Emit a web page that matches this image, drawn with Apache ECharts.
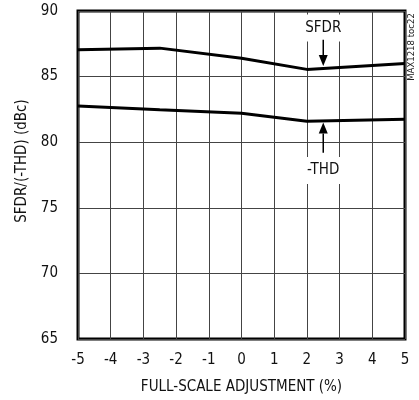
<!DOCTYPE html>
<html><head><meta charset="utf-8">
<script src="https://cdn.jsdelivr.net/npm/echarts@6/dist/echarts.min.js"></script>
<style>html,body{margin:0;padding:0;background:#fff}#c{width:419px;height:400px}</style>
</head><body><div id="c"></div>
<script>
const FONT = "'Liberation Sans Narrow', 'Arial Narrow', 'DejaVu Sans Condensed', sans-serif";
const xTicks = [-5,-4,-3,-2,-1,0,1,2,3,4,5];
const yTicks = [65,70,75,80,85,90];
const sfdrX = [-5, -2.5, 0, 2, 5];
const sfdrY = [87.05, 87.17, 86.4, 85.55, 86.0];
const thdX = [-5, -2.5, 0, 2, 5];
const thdY = [82.75, 82.47, 82.2, 81.6, 81.75];
const xName = 'FULL-SCALE ADJUSTMENT (%)';
const yName = 'SFDR/(-THD) (dBc)';
const sideNote = 'MAX1218 toc22';
// annotation anchors in data units
const sfdrLabel = {text:'SFDR', x:2.5, y:88.7, arrowFrom:87.8, arrowTo:85.8};
const thdLabel = {text:'-THD', x:2.5, y:77.85, arrowFrom:79.2, arrowTo:81.5};

const chart = echarts.init(document.getElementById('c'), null, {renderer:'canvas'});
const zip = (xs, ys) => xs.map((x,i)=>[x, ys[i]]);
chart.setOption({
  animation:false,
  backgroundColor:'#fff',
  textStyle:{fontFamily:FONT},
  grid:{left:78, right:14, top:11, bottom:59, show:true, borderColor:'#000', borderWidth:3, containLabel:false},
  xAxis:{type:'value', min:-5, max:5, interval:1,
    axisLine:{show:false}, axisTick:{show:false},
    splitLine:{show:true, lineStyle:{color:'#444', width:1}},
    axisLabel:{color:'#111', fontSize:15, fontFamily:FONT, margin:14,
      formatter:v=>xTicks.includes(v)?String(v):''},
    name:xName, nameLocation:'middle', nameGap:41,
    nameTextStyle:{color:'#111', fontSize:15, fontFamily:FONT}},
  yAxis:{type:'value', min:65, max:90, interval:5,
    axisLine:{show:false}, axisTick:{show:false},
    splitLine:{show:true, lineStyle:{color:'#444', width:1}},
    axisLabel:{color:'#111', fontSize:15, fontFamily:FONT, margin:20,
      formatter:v=>yTicks.includes(v)?String(v):''},
    name:yName, nameLocation:'middle', nameGap:44,
    nameTextStyle:{color:'#111', fontSize:15, fontFamily:FONT, padding:[0,0,0,28]}},
  series:[
    {type:'line', name:'SFDR', data:zip(sfdrX,sfdrY), symbol:'none', lineStyle:{color:'#000', width:3}, z:5},
    {type:'line', name:'-THD', data:zip(thdX,thdY), symbol:'none', lineStyle:{color:'#000', width:3}, z:5}
  ]
});

function px(x,y){return chart.convertToPixel({gridIndex:0},[x,y]);}
function annot(a, up){
  const t = px(a.x, a.y), f = px(a.x, a.arrowFrom), to = px(a.x, a.arrowTo);
  const headLen = 11, headW = 4.5;
  const baseY = to[1] + (up ? headLen : -headLen);
  return [
    {type:'text', x:t[0], y:t[1], z:20, style:{text:a.text, fill:'#111', font:'15px '+FONT,
      align:'center', verticalAlign:'middle', backgroundColor:'#fff', padding:[6,3,6,3]}},
    {type:'line', z:20, shape:{x1:f[0], y1:f[1], x2:to[0], y2:baseY}, style:{stroke:'#000', lineWidth:1.5}},
    {type:'polygon', z:20, shape:{points:[[to[0],to[1]],[to[0]-headW,baseY],[to[0]+headW,baseY]]}, style:{fill:'#000'}}
  ];
}
chart.setOption({graphic:[
  ...annot(sfdrLabel,false), ...annot(thdLabel,true),
  {type:'text', x:412, y:47, rotation:Math.PI/2, z:20, style:{text:sideNote, fill:'#222', font:'9.5px '+FONT,
    align:'center', verticalAlign:'middle'}}
]});
</script></body></html>
